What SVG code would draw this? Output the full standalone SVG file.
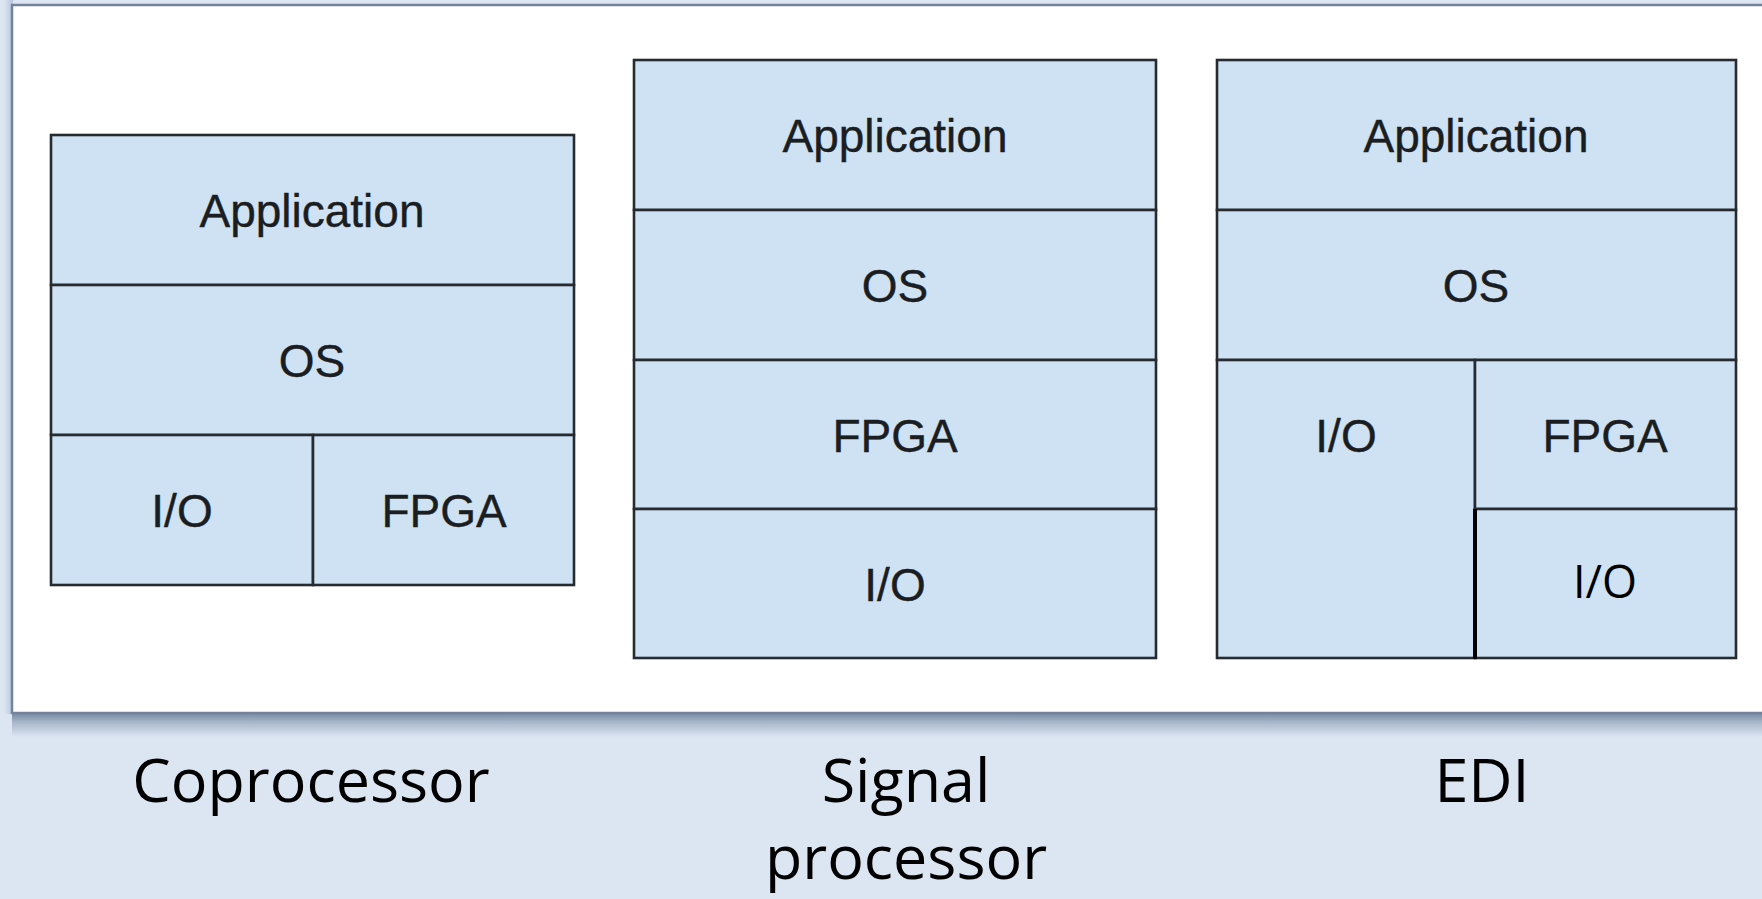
<svg xmlns="http://www.w3.org/2000/svg" width="1762" height="899" viewBox="0 0 1762 899">
  <defs>
    <linearGradient id="shadow" x1="0" y1="0" x2="0" y2="1">
      <stop offset="0" stop-color="#74879f"/>
      <stop offset="0.35" stop-color="#a4b3c6"/>
      <stop offset="1" stop-color="#dce6f2"/>
    </linearGradient>
    <linearGradient id="shadowL" x1="1" y1="0" x2="0" y2="0">
      <stop offset="0" stop-color="#b7c6dd"/>
      <stop offset="1" stop-color="#dce6f2"/>
    </linearGradient>
  </defs>
  <style>
    .cell { fill: #cfe2f3; stroke: #262b31; stroke-width: 2.6; }
    .t { font-family: "Liberation Sans", Arial, sans-serif; font-size: 46px; fill: #1a1e22; text-anchor: middle; stroke: #1a1e22; stroke-width: 0.4; }
    .lbl { font-family: "Open Sans", "Noto Sans", sans-serif; font-size: 61px; fill: #000; text-anchor: middle; }
    .t2 { font-family: "Open Sans", "Noto Sans", sans-serif; font-size: 45px; fill: #000; text-anchor: middle; }
  </style>
  <rect x="0" y="0" width="1762" height="899" fill="#dce6f2"/>
  <!-- panel -->
  <rect x="4" y="0" width="9" height="714" fill="url(#shadowL)"/>
  <rect x="12" y="713" width="1750" height="24" fill="url(#shadow)"/>
  <rect x="12" y="5" width="1800" height="708" fill="#ffffff" stroke="#74839c" stroke-width="2.5"/>

  <g id="coprocessor">
    <rect class="cell" x="51" y="135" width="523" height="150"/>
    <text class="t" x="312" y="227">Application</text>
    <rect class="cell" x="51" y="285" width="523" height="150"/>
    <text class="t" x="312" y="377">OS</text>
    <rect class="cell" x="51" y="435" width="262" height="150"/>
    <text class="t" x="182" y="527">I/O</text>
    <rect class="cell" x="313" y="435" width="261" height="150"/>
    <text class="t" x="444" y="527">FPGA</text>
  </g>

  <g id="signal-processor">
    <rect class="cell" x="634" y="60" width="522" height="150"/>
    <text class="t" x="895" y="152">Application</text>
    <rect class="cell" x="634" y="210" width="522" height="150"/>
    <text class="t" x="895" y="302">OS</text>
    <rect class="cell" x="634" y="360" width="522" height="149"/>
    <text class="t" x="895" y="452">FPGA</text>
    <rect class="cell" x="634" y="509" width="522" height="149"/>
    <text class="t" x="895" y="601">I/O</text>
  </g>

  <g id="edi">
    <rect class="cell" x="1217" y="60" width="519" height="150"/>
    <text class="t" x="1476" y="152">Application</text>
    <rect class="cell" x="1217" y="210" width="519" height="150"/>
    <text class="t" x="1476" y="302">OS</text>
    <rect class="cell" x="1217" y="360" width="258" height="298"/>
    <text class="t" x="1346" y="452">I/O</text>
    <rect class="cell" x="1475" y="360" width="261" height="149"/>
    <text class="t" x="1605" y="452">FPGA</text>
    <rect class="cell" x="1475" y="509" width="261" height="149"/>
    <line x1="1475" y1="509" x2="1475" y2="659" stroke="#000" stroke-width="4"/>
    <text class="t2" x="1605" y="598">I/O</text>
  </g>

  <g id="labels">
    <text class="lbl" x="311" y="802">Coprocessor</text>
    <text class="lbl" x="906" y="802">Signal</text>
    <text class="lbl" x="906" y="879">processor</text>
    <text class="lbl" x="1482" y="802">EDI</text>
  </g>
  <g id="connectors"/>
</svg>
